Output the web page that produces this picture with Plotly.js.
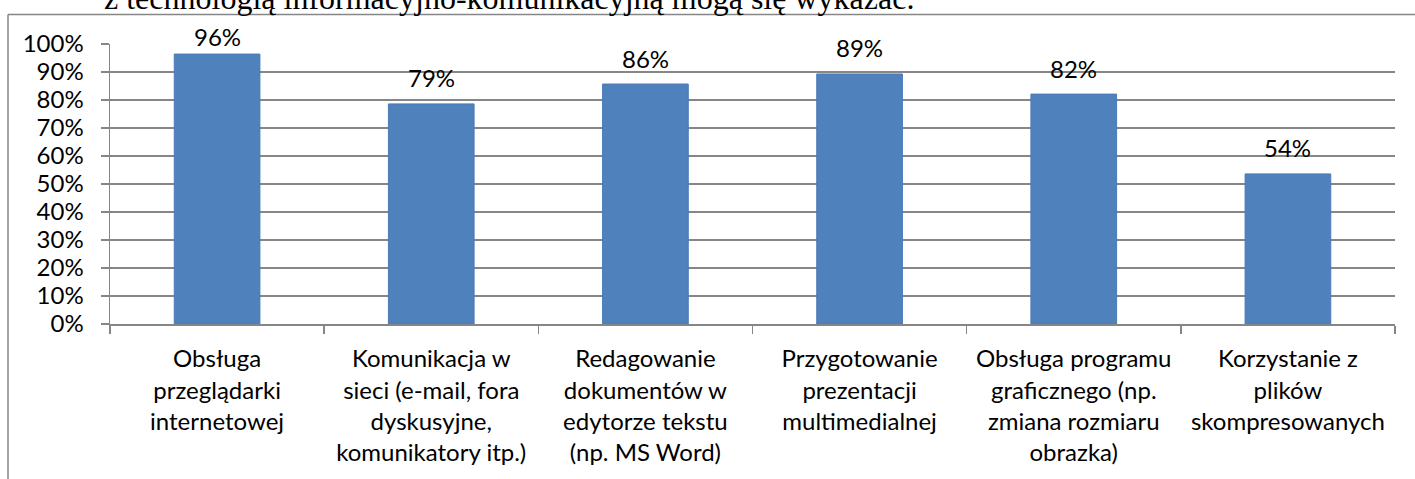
<!DOCTYPE html>
<html>
<head>
<meta charset="utf-8">
<script src="https://cdn.plot.ly/plotly-3.0.1.min.js"></script>
<style>
html,body{margin:0;padding:0;background:#fff;}
#chart{width:1415px;height:479px;}
</style>
</head>
<body>
<div id="chart"></div>
<script>
const categories = [
  "Obsługa<br>przeglądarki<br>internetowej",
  "Komunikacja w<br>sieci (e-mail, fora<br>dyskusyjne,<br>komunikatory itp.)",
  "Redagowanie<br>dokumentów w<br>edytorze tekstu<br>(np. MS Word)",
  "Przygotowanie<br>prezentacji<br>multimedialnej",
  "Obsługa programu<br>graficznego (np.<br>zmiana rozmiaru<br>obrazka)",
  "Korzystanie z<br>plików<br>skompresowanych"
];
const values = [0.964, 0.786, 0.857, 0.893, 0.821, 0.536];
const valueLabels = ["96%", "79%", "86%", "89%", "82%", "54%"];
const headingText = "z technologią informacyjno-komunikacyjną mogą się wykazać.";

const gray = "#868686";
const font = "Lato, 'Open Sans', sans-serif";

// plot area geometry in pixels
const L = 110, R = 1395, T = 44, B = 324;
const px2x = p => (p - L) / (R - L);
const px2y = p => (B - p) / (B - T);

const trace = {
  type: "bar",
  x: categories,
  y: values,
  marker: {color: "#4f81bd", line: {color: "#4a7ab5", width: 1}},
  hoverinfo: "skip"
};

// value labels above bars (kept below the top of the chart frame)
const labelAnnotations = values.map((v, i) => {
  const topPx = B - v * (B - T);
  const centerPx = Math.max(topPx - 26, 36);
  return {
    x: categories[i], y: v, xref: "x", yref: "y",
    text: valueLabels[i], showarrow: false,
    yanchor: "middle", yshift: topPx - centerPx,
    font: {family: font, size: 24, color: "#000"}
  };
});

const layout = {
  width: 1415, height: 479,
  margin: {l: L, r: 1415 - R, t: T, b: 479 - B},
  paper_bgcolor: "#fff", plot_bgcolor: "#fff",
  bargap: 0.6,
  showlegend: false,
  font: {family: font, size: 24, color: "#000"},
  xaxis: {
    type: "category",
    showline: true, linecolor: gray, linewidth: 1.5,
    ticks: "outside", tickson: "boundaries", ticklen: 8, tickcolor: gray, tickwidth: 1.5,
    showgrid: false,
    tickfont: {family: font, size: 24, color: "#000"},
    tickangle: 0,
    ticklabelstandoff: 13,
    automargin: false
  },
  yaxis: {
    range: [0, 1], dtick: 0.1, tickformat: ".0%",
    showline: true, linecolor: gray, linewidth: 1.5,
    ticks: "outside", ticklen: 8, tickcolor: gray, tickwidth: 1.5,
    showgrid: true, gridcolor: gray, gridwidth: 1.5,
    zeroline: false,
    tickfont: {family: font, size: 24, color: "#000"},
    ticklabelstandoff: 12,
    automargin: false
  },
  shapes: [
    {type: "line", xref: "paper", yref: "paper", x0: px2x(8), x1: px2x(1420), y0: px2y(14.5), y1: px2y(14.5), line: {color: gray, width: 1.5}},
    {type: "line", xref: "paper", yref: "paper", x0: px2x(8), x1: px2x(8), y0: px2y(14.5), y1: px2y(485), line: {color: gray, width: 1.5}}
  ],
  annotations: labelAnnotations.concat([
    {text: headingText, xref: "paper", yref: "paper", x: px2x(102), y: px2y(18), xanchor: "left", yanchor: "bottom",
     showarrow: false, font: {family: "'Liberation Serif', 'Times New Roman', serif", size: 32, color: "#000"}}
  ])
};

Plotly.newPlot("chart", [trace], layout, {displayModeBar: false, staticPlot: true});
</script>
</body>
</html>
